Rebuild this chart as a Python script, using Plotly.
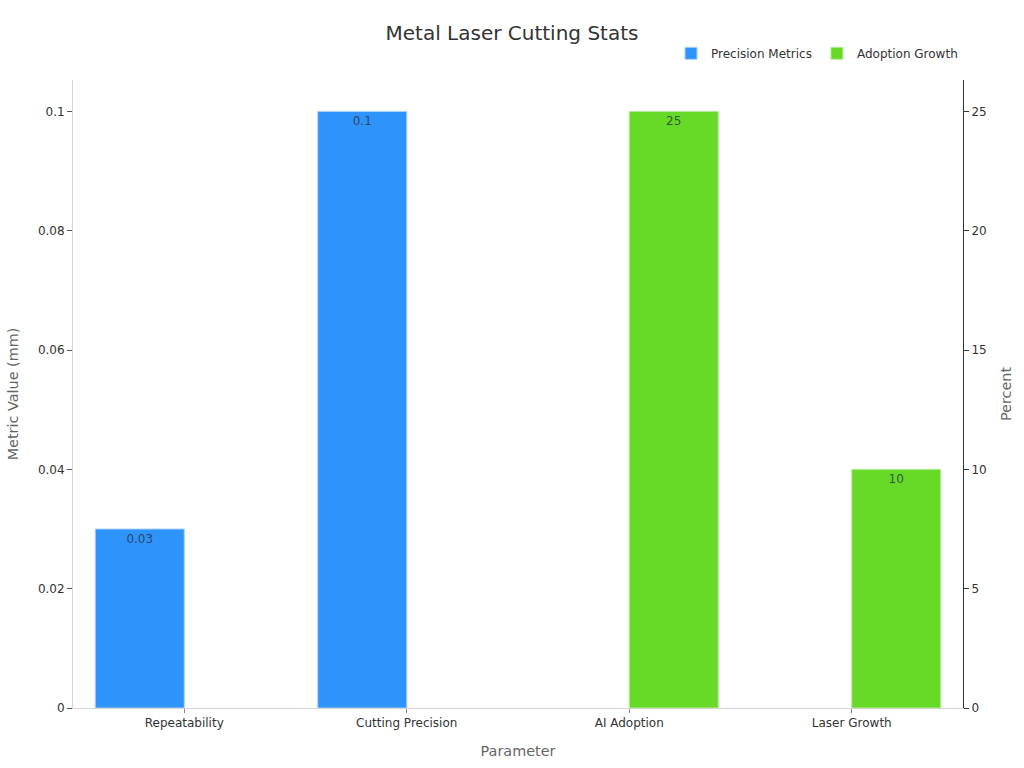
import plotly.graph_objects as go

categories = ["Repeatability", "Cutting Precision", "AI Adoption", "Laser Growth"]
precision_metrics = [0.03, 0.1, None, None]
adoption_growth = [None, None, 25, 10]
precision_labels = ["0.03", "0.1", "", ""]
adoption_labels = ["", "", "25", "10"]
left_ticks = [0, 0.02, 0.04, 0.06, 0.08, 0.1]
left_tick_labels = ["0", "0.02", "0.04", "0.06", "0.08", "0.1"]
right_ticks = [0, 5, 10, 15, 20, 25]

FONT = "DejaVu Sans"
fig = go.Figure()
fig.add_bar(
    x=categories, y=precision_metrics, name="Precision Metrics", yaxis="y",
    width=0.4, offset=-0.4, text=precision_labels, textposition="inside",
    insidetextanchor="end", textangle=0, constraintext="none",
    textfont=dict(size=12, color="rgba(40,50,60,0.8)", family=FONT),
    marker=dict(color="#2e93fa", line=dict(color="#a9d0fb", width=1)),
    cliponaxis=False,
)
fig.add_bar(
    x=categories, y=adoption_growth, name="Adoption Growth", yaxis="y2",
    width=0.4, offset=0, text=adoption_labels, textposition="inside",
    insidetextanchor="end", textangle=0, constraintext="none",
    textfont=dict(size=12, color="rgba(40,50,60,0.8)", family=FONT),
    marker=dict(color="#66da26", line=dict(color="#b5ec9a", width=1)),
    cliponaxis=False,
)
fig.update_layout(
    width=1024, height=768, autosize=False,
    margin=dict(l=72.5, r=60.5, t=80, b=60),
    paper_bgcolor="white", plot_bgcolor="white",
    font=dict(family=FONT, size=12, color="#333333"),
    title=dict(text="Metal Laser Cutting Stats", x=0.5, xanchor="center", y=0.957, yanchor="middle",
               font=dict(size=20, color="#333333", family=FONT)),
    barmode="overlay", showlegend=True,
    legend=dict(orientation="h", x=1.0, xanchor="right", y=1.0425, yanchor="middle",
                font=dict(size=12, color="#333333"), itemwidth=30, bgcolor="rgba(0,0,0,0)"),
    xaxis=dict(
        type="category", categoryorder="array", categoryarray=categories,
        title=dict(text="Parameter", font=dict(size=14.4, color="#666666"), standoff=16),
        showgrid=False, zeroline=False, showline=True, linecolor="#d5d5d5", linewidth=1,
        ticks="outside", ticklen=4, tickcolor="#888888", tickfont=dict(size=12, color="#333333"),
    ),
    yaxis=dict(
        range=[0, 0.10526], tickvals=left_ticks, ticktext=left_tick_labels,
        title=dict(text="Metric Value (mm)", font=dict(size=14.4, color="#666666"), standoff=15),
        showgrid=False, zeroline=False, showline=True, linecolor="#d5d5d5", linewidth=1,
        ticks="outside", ticklen=5, tickcolor="#555555", tickfont=dict(size=12, color="#333333"),
    ),
    yaxis2=dict(
        range=[0, 26.315], tickvals=right_ticks, overlaying="y", side="right",
        title=dict(text="Percent", font=dict(size=14.4, color="#666666"), standoff=15),
        showgrid=False, zeroline=False, showline=True, linecolor="#333333", linewidth=1,
        ticks="outside", ticklen=5, tickcolor="#333333", tickfont=dict(size=12, color="#333333"),
    ),
)
fig.write_html("out.html", config={"displayModeBar": False},
               post_script="document.body.style.margin='0';document.body.style.overflow='hidden';")
